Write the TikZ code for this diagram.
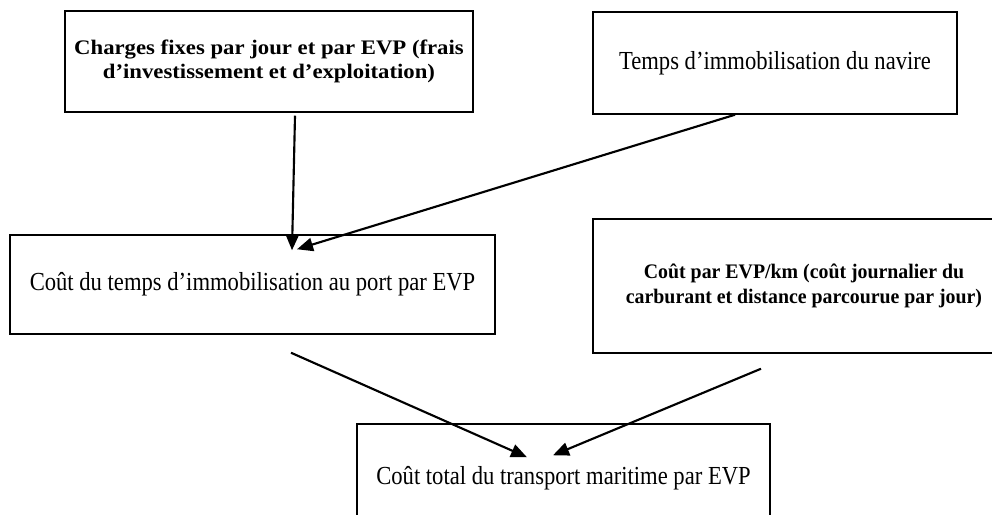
\documentclass[tikz,border=0pt]{standalone}
\usepackage{fontspec}
\setmainfont{Liberation Serif}
\newfontfamily\narrowserif[FakeStretch=0.87]{Liberation Serif}
\newfontfamily\wideserif[FakeStretch=1.1]{Liberation Serif}
\newfontfamily\tightserif[FakeStretch=0.96]{Liberation Serif}
\usetikzlibrary{arrows.meta,calc}
\begin{document}
\begin{tikzpicture}[
      x=0.75pt,y=-0.75pt,
      box/.style={draw,line width=1.1pt,align=center,inner sep=0pt,
        font=\narrowserif\fontsize{19.5}{23}\selectfont},
      boldbox/.style={box,font=\wideserif\bfseries\fontsize{15.5}{18.5}\selectfont},
      tightbox/.style={box,font=\tightserif\bfseries\fontsize{15.5}{18.5}\selectfont}
      ,flow/.style={line width=1.6pt,-{Triangle[length=12pt,width=10pt]}}
    ]
    \useasboundingbox (0,0) rectangle (992,514);
    \clip (0,0) rectangle (992,514);
    % Draw the boxes.
    \node[boldbox,minimum width=408*0.75pt,minimum height=101*0.75pt] (fixes) at (269,61.5)
      {Charges fixes par jour et par EVP (frais\\d’investissement et d’exploitation)};
    \node[box,minimum width=364*0.75pt,minimum height=102*0.75pt] (temps) at (775,63)
      {Temps d’immobilisation du navire};
    \node[box,minimum width=485*0.75pt,minimum height=99*0.75pt] (port) at (252.5,284.5)
      {Coût du temps d’immobilisation au port par EVP};
    \node[tightbox,minimum width=422*0.75pt,minimum height=134*0.75pt] (km) at (804,286)
      {Coût par EVP/km (coût journalier du\\carburant et distance parcourue par jour)};
    \node[box,minimum width=413*0.75pt,minimum height=108*0.75pt] (total) at (563.5,478)
      {Coût total du transport maritime par EVP};
    % Draw the arrows.
    \draw[flow] ($(fixes.south)+(26,3)$) -- ($(port.north)+(39.5,16)$);
    \draw[flow] ($(temps.south)+(-40,0)$) -- ($(port.north)+(44.5,15)$);
    \draw[flow] ($(port.south)+(38.5,18)$) -- ($(total.north)+(-36.5,34)$);
    \draw[flow] ($(km.south)+(-43,15)$) -- ($(total.north)+(-10.5,32)$);
\end{tikzpicture}
\end{document}
